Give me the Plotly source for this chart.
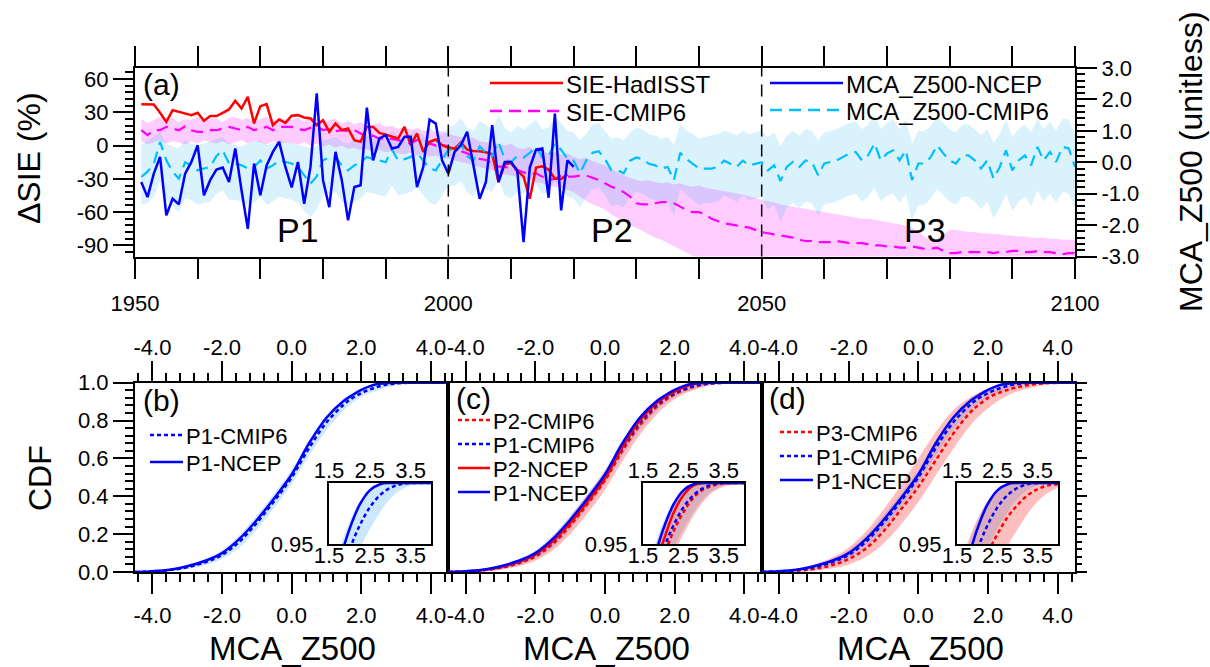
import plotly.graph_objects as go

# ---------------------------------------------------------------- data
YEARS_CMIP = list(range(1951, 2101))
YEARS_NCEP = list(range(1951, 2021))
YEARS_HAD = list(range(1951, 2020))

# Sea-ice extent anomaly, HadISST (%)
SIE_HADISST = [
    37.4, 37.4, 37.0, 29.6, 21.4, 32.0, 30.5, 29.0, 27.5, 29.6,
    22.4, 26.6, 26.6, 29.6, 32.6, 40.4, 33.5, 44.0, 20.0, 35.6,
    37.4, 18.4, 23.6, 20.5, 27.0, 27.5, 25.4, 24.5, 18.4, 23.0,
    12.4, 20.0, 13.9, 15.4, 4.9, 3.4, 16.9, 16.9, 11.5, 9.9,
    8.4, 6.4, 16.9, 0.4, 10.9, -5.7, 3.4, 5.5, 0.4, -2.0,
    -2.7, 2.8, -3.6, -4.8, -5.1, -6.0, -7.8, -32.8, -16.8, -15.6,
    -22.8, -27.7, -47.9, -19.8, -18.6, -21.6, -29.8, -30.1, -25.9,
]

# Sea-ice extent anomaly, CMIP6 ensemble mean and spread (%)
SIE_CMIP6 = [
    13.9, 9.4, 13.9, 13.9, 16.9, 15.4, 13.9, 17.5, 13.9, 12.4,
    12.4, 13.9, 13.9, 15.4, 16.9, 15.4, 13.9, 16.9, 13.9, 15.4,
    16.9, 13.9, 16.9, 16.9, 16.9, 15.0, 14.0, 16.0, 17.0, 14.0,
    15.0, 13.0, 14.0, 13.0, 14.0, 11.0, 8.0, 9.0, 6.0, 7.0,
    6.0, 5.0, 3.0, 2.0, 5.0, 6.0, 2.0, 0.0, 1.0, -1.0,
    -3, -5, -7, -10, -12, -13, -16, -19, -19, -21,
    -22, -24, -26, -25, -28, -31, -30, -27, -28, -28,
    -27, -27, -29, -31, -34, -37, -39, -42, -46, -52,
    -53, -53, -52, -51, -51, -52, -55, -58, -60, -60,
    -62, -66, -68, -70, -71, -72, -73, -74, -76, -78,
    -79, -80, -81, -82, -83, -85, -86, -86, -87, -87,
    -87, -86, -87, -88, -88, -88, -89, -90, -90, -91,
    -91, -92, -92, -91, -92, -93, -93, -92, -95, -97,
    -97, -96, -96, -96, -96, -96, -97, -96, -96, -95,
    -95, -96, -96, -95, -96, -96, -97, -98, -97, -97,
]
SIE_CMIP6_HI = [
    24, 20, 23, 26, 22, 25, 21, 24, 23, 26, 22, 25, 24, 21, 25, 26, 23, 25, 21, 24,
    26, 22, 25, 24, 23, 25, 22, 26, 24, 21, 23, 24, 20, 22, 19, 21, 18, 19, 20, 17,
    18, 15, 17, 14, 16, 13, 15, 12, 13, 11, 9, 8, 6, 7, 4, 3, 4, 1, 0, 2,
    -2, -3, -1, -5, -4, -7, -6, -8, -7, -10, -12, -11, -14, -16, -18, -21, -24, -27, -29, -31,
    -32, -31, -33, -34, -33, -35, -34, -36, -37, -36, -38, -39, -40, -41, -42, -43, -44, -46, -47, -49,
    -50, -51, -53, -54, -55, -56, -57, -58, -59, -60, -61, -62, -63, -64, -65, -66, -66, -67, -68, -69,
    -70, -71, -72, -74, -78, -82, -86, -84, -80, -76, -76, -77, -78, -78, -79, -79, -80, -80, -81, -81,
    -82, -82, -83, -83, -83, -84, -84, -85, -85, -85,
]
SIE_CMIP6_LO = [
    4, 1, 3, 5, 2, 4, 3, 1, 4, 2, 5, 3, 2, 4, 1, 3, 5, 2, 4, 3,
    1, 4, 2, 3, 2, 1, 3, 0, 2, -1, 1, -2, 0, -3, -2, -4, -3, -5, -4, -6,
    -5, -7, -8, -6, -9, -8, -10, -9, -11, -12, -13, -15, -16, -18, -19, -21, -22, -24, -26, -27,
    -28, -30, -31, -33, -34, -36, -37, -38, -40, -42, -46, -50, -53, -55, -58, -62, -65, -68, -72, -74,
    -77, -80, -83, -85, -88, -91, -94, -97, -100, -103, -106, -108, -110, -112, -114, -116, -118, -120, -121, -122,
    -123, -122, -124, -123, -125, -124, -126, -125, -124, -126, -125, -127, -126, -125, -127, -126, -128, -127, -126, -128,
    -127, -129, -128, -127, -129, -128, -130, -129, -128, -130, -129, -131, -130, -129, -131, -130, -132, -131, -130, -132,
    -131, -133, -132, -131, -133, -132, -134, -133, -132, -134,
]

# MCA_Z500 index, NCEP reanalysis (unitless)
MCA_NCEP = [
    -0.63, -1.11, -0.36, 0.17, -1.69, -1.16, -1.34, -0.36, 0.01, 0.54,
    -1.05, -0.57, -0.23, -0.17, -0.63, 0.44, -0.89, -2.12, -0.04, -1.05,
    -0.10, 0.33, 0.65, -0.15, -0.80, 0.01, -1.32, -0.15, 2.19, -0.57,
    -1.43, 0.33, -0.57, -1.85, -0.79, -0.73, 1.74, 0.06, 0.76, 0.86,
    0.44, 0.49, 0.81, 0.81, -0.79, -0.15, 1.36, 1.23, 0.06, -0.36,
    0.33, 0.54, 0.97, -0.10, -1.16, -0.63, 1.18, -0.63, 0.01, 0.01,
    -0.26, -2.54, -0.17, 0.40, 0.44, -1.13, 1.55, -1.53, 0.06, -0.15,
]

# MCA_Z500 index, CMIP6 ensemble mean and spread (unitless)
MCA_CMIP6 = [
    -0.47, -0.30, -0.05, 0.65, 0.06, -0.30, -0.52, 0.00, -0.10, -0.26,
    -0.20, -0.15, 0.20, 0.38, -0.04, -0.04, -0.10, -0.20, -0.15, 0.06,
    -0.20, -0.10, 0.06, 0.00, -0.04, -0.15, -0.40, -0.68, -0.45, 0.06,
    0.15, 0.17, -0.10, -0.26, -0.10, 0.00, 0.17, 0.10, 0.06, 0.00,
    0.40, 0.06, 0.10, 0.17, 0.30, 0.06, -0.20, -0.26, 0.06, 0.40,
    0.40, 0.60, 0.20, 0.05, 0.50, 0.30, 0.20, 0.65, 0.10, 0.00,
    0.20, 0.15, 0.30, 0.50, 0.15, 0.20, 0.60, 0.40, 0.10, 0.05,
    -0.35, 0.05, 0.30, 0.35, 0.10, -0.25, -0.25, -0.35, 0.05, 0.15,
    0.10, -0.05, -0.10, -0.20, -0.15, -0.57, 0.30, 0.10, -0.05, -0.20,
    -0.20, -0.20, -0.15, 0.05, -0.05, -0.15, 0.05, -0.10, -0.05, 0.00,
    -0.26, -0.10, -0.60, -0.15, 0.01, -0.15, 0.06, 0.01, -0.41, -0.04,
    0.01, 0.06, 0.17, 0.28, 0.33, 0.06, 0.22, 0.60, 0.06, 0.28,
    0.38, 0.06, 0.38, -0.57, -0.04, -0.04, 0.17, 0.54, 0.28, 0.06,
    -0.04, 0.22, 0.22, 0.06, -0.20, 0.06, -0.52, -0.15, 0.38, -0.26,
    0.06, 0.22, -0.10, 0.49, 0.06, 0.33, 0.01, 0.49, 0.44, -0.15,
]
MCA_CMIP6_HI = [
    0.55, 0.70, 0.80, 0.95, 0.60, 0.50, 0.45, 0.70, 0.60, 0.55,
    0.60, 0.65, 0.75, 0.80, 0.60, 0.55, 0.50, 0.60, 0.65, 0.70,
    0.55, 0.60, 0.70, 0.65, 0.60, 0.55, 0.50, 0.45, 0.50, 0.70,
    0.75, 0.80, 0.65, 0.60, 0.70, 0.75, 0.85, 0.80, 0.70, 0.75,
    1.00, 0.85, 0.80, 0.90, 1.00, 0.85, 0.70, 0.75, 0.90, 1.10,
    1.20, 1.40, 1.10, 1.00, 1.30, 1.20, 1.00, 1.50, 1.10, 0.95,
    1.15, 1.05, 1.20, 1.35, 1.05, 1.10, 1.45, 1.25, 1.00, 0.95,
    0.70, 0.90, 1.20, 1.25, 1.00, 0.75, 0.80, 0.70, 0.95, 1.10,
    1.05, 0.90, 0.85, 0.75, 0.80, 0.55, 1.20, 1.00, 0.90, 0.75,
    0.80, 0.85, 0.90, 1.00, 0.95, 0.85, 1.00, 0.90, 0.95, 1.00,
    0.80, 0.95, 0.50, 0.85, 1.00, 0.85, 1.05, 1.00, 0.70, 0.95,
    1.00, 1.05, 1.15, 1.25, 1.30, 1.05, 1.20, 1.50, 1.05, 1.25,
    1.35, 1.05, 1.35, 0.60, 1.00, 1.00, 1.15, 1.45, 1.25, 1.05,
    0.95, 1.20, 1.20, 1.05, 0.85, 1.05, 0.60, 0.90, 1.35, 0.80,
    1.05, 1.20, 0.95, 1.40, 1.05, 1.30, 1.00, 1.40, 1.35, 0.90,
]
MCA_CMIP6_LO = [
    -1.35, -1.30, -1.10, -0.60, -1.20, -1.40, -1.60, -1.15, -1.20, -1.35,
    -1.30, -1.25, -1.00, -0.90, -1.20, -1.20, -1.25, -1.35, -1.30, -1.10,
    -1.35, -1.25, -1.10, -1.15, -1.20, -1.30, -1.55, -1.75, -1.50, -1.05,
    -1.00, -0.95, -1.25, -1.40, -1.25, -1.15, -0.95, -1.00, -1.05, -1.10,
    -0.75, -1.05, -1.00, -0.95, -0.80, -1.05, -1.30, -1.35, -1.05, -0.75,
    -0.75, -0.60, -0.95, -1.10, -0.65, -0.85, -0.95, -0.55, -1.05, -1.15,
    -0.95, -1.00, -0.85, -0.70, -1.00, -0.95, -0.60, -0.80, -1.10, -1.15,
    -1.45, -1.10, -0.85, -0.80, -1.05, -1.40, -1.35, -1.45, -1.05, -0.95,
    -1.00, -1.15, -1.20, -1.30, -1.25, -1.70, -0.85, -1.05, -1.20, -1.35,
    -1.30, -1.30, -1.25, -1.05, -1.15, -1.25, -1.05, -1.20, -1.15, -1.10,
    -1.50, -1.35, -1.90, -1.45, -1.30, -1.45, -1.25, -1.30, -1.70, -1.35,
    -1.30, -1.25, -1.15, -1.05, -1.00, -1.25, -1.10, -0.80, -1.25, -1.05,
    -1.00, -1.30, -1.00, -1.85, -1.35, -1.35, -1.15, -0.85, -1.05, -1.25,
    -1.35, -1.10, -1.10, -1.25, -1.50, -1.25, -1.80, -1.45, -1.00, -1.55,
    -1.25, -1.10, -1.40, -0.90, -1.25, -1.00, -1.30, -0.95, -1.00, -1.45,
]

# Cumulative distribution functions of MCA_Z500
CDF_X = [-4.5, -4.0, -3.5, -3.0, -2.5, -2.0, -1.5, -1.0, -0.5, 0.0, 0.5, 1.0,
         1.5, 1.75, 2.0, 2.25, 2.5, 2.75, 3.0, 3.25, 3.5, 3.75, 4.0, 4.5]
P1_NCEP = [0, 0.004, 0.012, 0.030, 0.058, 0.100, 0.175, 0.275, 0.390, 0.515, 0.680, 0.815,
           0.905, 0.935, 0.962, 0.982, 0.994, 0.999, 1, 1, 1, 1, 1, 1]
P2_NCEP = [0, 0.003, 0.010, 0.026, 0.052, 0.092, 0.162, 0.258, 0.372, 0.495, 0.660, 0.800,
           0.895, 0.928, 0.952, 0.975, 0.990, 0.998, 1, 1, 1, 1, 1, 1]
P1_CMIP6 = [0, 0.003, 0.010, 0.025, 0.050, 0.090, 0.160, 0.260, 0.375, 0.500, 0.655, 0.790,
            0.885, 0.920, 0.945, 0.965, 0.980, 0.990, 0.996, 0.999, 1, 1, 1, 1]
P1_CMIP6_LO = [0, 0.001, 0.005, 0.015, 0.035, 0.070, 0.130, 0.225, 0.340, 0.465, 0.615, 0.750,
               0.855, 0.895, 0.925, 0.946, 0.962, 0.976, 0.987, 0.994, 0.998, 1, 1, 1]
P1_CMIP6_HI = [0, 0.006, 0.016, 0.036, 0.068, 0.115, 0.195, 0.300, 0.415, 0.540, 0.695, 0.830,
               0.915, 0.945, 0.968, 0.985, 0.995, 1, 1, 1, 1, 1, 1, 1]
P2_CMIP6 = [0, 0.0025, 0.009, 0.022, 0.045, 0.082, 0.148, 0.245, 0.360, 0.485, 0.640, 0.775,
            0.875, 0.910, 0.938, 0.960, 0.976, 0.988, 0.995, 0.998, 1, 1, 1, 1]
P2_CMIP6_LO = [0, 0.001, 0.004, 0.012, 0.030, 0.060, 0.115, 0.200, 0.310, 0.435, 0.585, 0.725,
               0.835, 0.878, 0.912, 0.940, 0.958, 0.973, 0.985, 0.993, 0.997, 0.999, 1, 1]
P2_CMIP6_HI = [0, 0.005, 0.014, 0.033, 0.062, 0.108, 0.185, 0.290, 0.410, 0.535, 0.690, 0.825,
               0.912, 0.942, 0.965, 0.982, 0.993, 0.999, 1, 1, 1, 1, 1, 1]
P3_CMIP6 = [0, 0.002, 0.006, 0.016, 0.035, 0.068, 0.125, 0.215, 0.330, 0.450, 0.590, 0.730,
            0.845, 0.885, 0.920, 0.942, 0.958, 0.972, 0.982, 0.990, 0.995, 0.998, 0.999, 1]
P3_CMIP6_LO = [0, 0.0005, 0.002, 0.007, 0.018, 0.040, 0.080, 0.150, 0.250, 0.370, 0.510, 0.650,
               0.775, 0.825, 0.865, 0.900, 0.925, 0.948, 0.962, 0.975, 0.985, 0.992, 0.996, 1]
P3_CMIP6_HI = [0, 0.006, 0.018, 0.040, 0.075, 0.130, 0.215, 0.330, 0.460, 0.600, 0.740, 0.855,
               0.925, 0.950, 0.970, 0.985, 0.994, 0.999, 1, 1, 1, 1, 1, 1]

YEAR_TICKS = [1950, 2000, 2050, 2100]
SIE_TICKS = [-90, -60, -30, 0, 30, 60]
MCA_TICKS = [-3, -2, -1, 0, 1, 2, 3]
CDF_TICKS = [0, 0.2, 0.4, 0.6, 0.8, 1.0]
Z_TICKS = [-4, -2, 0, 2, 4]
INSET_TICKS = [1.5, 2.5, 3.5]

for arr in (SIE_CMIP6, SIE_CMIP6_HI, SIE_CMIP6_LO, MCA_CMIP6, MCA_CMIP6_HI, MCA_CMIP6_LO):
    assert len(arr) == len(YEARS_CMIP)
assert len(MCA_NCEP) == len(YEARS_NCEP) and len(SIE_HADISST) == len(YEARS_HAD)

# ---------------------------------------------------------------- styling
W, H = 1210, 667
ML, MR, MT, MB = 135, 135, 68, 95
PW, PH = W - ML - MR, H - MT - MB
FONT = "Liberation Sans"
TICK_SIZE = 22

RED, BLUE, MAGENTA, CYAN = "#ff0000", "#0000ff", "#ff00ff", "#00bfff"
PINK_FILL = "rgba(255,0,255,0.20)"
SKY_FILL = "rgba(0,170,238,0.15)"
CDF_RED_FILL = "rgba(255,40,40,0.30)"
CDF_BLUE_FILL = "rgba(0,140,255,0.20)"
LONG_DASH = "12px,7px"
SHORT_DASH = "4px,3px"


def px(x):
    return (x - ML) / PW


def py(y):
    return (H - MB - y) / PH


def tfont(size):
    return dict(family=FONT, size=size, color="black")


def fmt1(v):
    return f"{v:.1f}"


fig = go.Figure()


def band(x, lo, hi, color, xa, ya, spline=False):
    shape = "spline" if spline else "linear"
    fig.add_trace(go.Scatter(x=x, y=lo, mode="lines", line=dict(width=0, shape=shape),
                             xaxis=xa, yaxis=ya, showlegend=False, hoverinfo="skip"))
    fig.add_trace(go.Scatter(x=x, y=hi, mode="lines", line=dict(width=0, shape=shape),
                             fill="tonexty", fillcolor=color,
                             xaxis=xa, yaxis=ya, showlegend=False, hoverinfo="skip"))


def curve(x, y, color, dash, width, xa, ya, spline=False):
    fig.add_trace(go.Scatter(x=x, y=y, mode="lines",
                             line=dict(color=color, dash=dash, width=width,
                                       shape="spline" if spline else "linear"),
                             xaxis=xa, yaxis=ya, showlegend=False))


def label_axis_holder(xa, ya):
    # empty trace so that the secondary (top-labelled) axis gets its own subplot
    fig.add_trace(go.Scatter(x=[], y=[], mode="lines", xaxis=xa, yaxis=ya,
                             showlegend=False, hoverinfo="skip"))


# ---------------------------------------------------------------- (a) time series
band(YEARS_CMIP, SIE_CMIP6_LO, SIE_CMIP6_HI, PINK_FILL, "x", "y")
band(YEARS_CMIP, MCA_CMIP6_LO, MCA_CMIP6_HI, SKY_FILL, "x", "y2")
curve(YEARS_CMIP, SIE_CMIP6, MAGENTA, LONG_DASH, 2.2, "x", "y3")
curve(YEARS_HAD, SIE_HADISST, RED, "solid", 2.5, "x", "y3")
curve(YEARS_CMIP, MCA_CMIP6, CYAN, LONG_DASH, 2.2, "x", "y4")
curve(YEARS_NCEP, MCA_NCEP, BLUE, "solid", 2.5, "x", "y4")

# ---------------------------------------------------------------- (b)-(d) CDFs
PANELS = [
    # (main x, main y, inset x, inset y, bands, lines)
    ("x2", "y5", "x8", "y8",
     [(P1_CMIP6_LO, P1_CMIP6_HI, CDF_BLUE_FILL)],
     [(P1_CMIP6, BLUE, SHORT_DASH), (P1_NCEP, BLUE, "solid")]),
    ("x3", "y6", "x9", "y9",
     [(P1_CMIP6_LO, P1_CMIP6_HI, CDF_BLUE_FILL), (P2_CMIP6_LO, P2_CMIP6_HI, CDF_RED_FILL)],
     [(P2_CMIP6, RED, SHORT_DASH), (P1_CMIP6, BLUE, SHORT_DASH),
      (P2_NCEP, RED, "solid"), (P1_NCEP, BLUE, "solid")]),
    ("x4", "y7", "x10", "y10",
     [(P1_CMIP6_LO, P1_CMIP6_HI, CDF_BLUE_FILL), (P3_CMIP6_LO, P3_CMIP6_HI, CDF_RED_FILL)],
     [(P3_CMIP6, RED, SHORT_DASH), (P1_CMIP6, BLUE, SHORT_DASH), (P1_NCEP, BLUE, "solid")]),
]
for xa, ya, ixa, iya, bands, lines in PANELS:
    for ax_x, ax_y in ((xa, ya), (ixa, iya)):
        for lo, hi, col in bands:
            band(CDF_X, lo, hi, col, ax_x, ax_y, spline=True)
        for yv, col, dash in lines:
            curve(CDF_X, yv, col, dash, 2.5, ax_x, ax_y, spline=True)

for i in range(3):
    label_axis_holder(f"x{5 + i}", f"y{5 + i}")
    label_axis_holder(f"x{11 + i}", f"y{8 + i}")

# ---------------------------------------------------------------- axes
AX = dict(showline=True, linecolor="black", linewidth=2, showgrid=False, zeroline=False,
          ticks="outside", tickcolor="black", tickwidth=2, ticklen=20,
          tickfont=tfont(TICK_SIZE))


def minor(step, tick0=0, length=8):
    return dict(tickmode="linear", tick0=tick0, dtick=step, ticks="outside",
                ticklen=length, tickwidth=1.5, tickcolor="black")


TOP_DOM = [py(256.5), 1.0]
BOT_DOM = [0.0, py(382.7)]
INSET_Y = [py(544), py(483)]
INSET_X = [[px(329), px(431)], [px(643), px(744)], [px(957), px(1058)]]

layout_axes = {}
layout_axes["xaxis"] = dict(AX, domain=[0, 1], anchor="y", range=[1950, 2100],
                            tickmode="array", tickvals=YEAR_TICKS,
                            ticktext=[str(v) for v in YEAR_TICKS],
                            mirror="allticks", minor=minor(10, 1950), ticklabelstandoff=6)
layout_axes["yaxis"] = dict(AX, domain=TOP_DOM, anchor="x", range=[-100, 70],
                            tickmode="array", tickvals=SIE_TICKS,
                            ticktext=[str(v) for v in SIE_TICKS],
                            mirror=True, minor=minor(6))
layout_axes["yaxis2"] = dict(overlaying="y", range=[-3, 3], visible=False)
layout_axes["yaxis3"] = dict(overlaying="y", range=[-100, 70], visible=False)
layout_axes["yaxis4"] = dict(AX, overlaying="y", side="right", anchor="x", range=[-3, 3],
                             tickmode="array", tickvals=MCA_TICKS,
                             ticktext=[fmt1(v) for v in MCA_TICKS], minor=minor(0.2))

for i in range(3):
    dom = [i / 3, (i + 1) / 3]
    xid, yid = f"x{2 + i}", f"y{5 + i}"
    layout_axes[f"xaxis{2 + i}"] = dict(AX, domain=dom, anchor=yid, range=[-4.5, 4.5],
                                        tickmode="array", tickvals=Z_TICKS,
                                        ticktext=[fmt1(v) for v in Z_TICKS],
                                        mirror="allticks", minor=minor(0.4),
                                        ticklabelstandoff=3)
    # tick labels along the top edge
    layout_axes[f"xaxis{5 + i}"] = dict(AX, overlaying=xid, side="top", anchor=yid,
                                        range=[-4.5, 4.5], showline=False,
                                        tickmode="array", tickvals=Z_TICKS,
                                        ticktext=[fmt1(v) for v in Z_TICKS],
                                        tickcolor="rgba(0,0,0,0)", ticklabelstandoff=-2)
    ydef = dict(AX, domain=BOT_DOM, anchor=xid, range=[0, 1], mirror=True,
                tickmode="array", tickvals=CDF_TICKS, ticktext=[fmt1(v) for v in CDF_TICKS])
    if i == 0:
        ydef.update(minor=minor(0.04))
    elif i == 1:
        ydef.update(ticks="", showticklabels=False)
    else:
        ydef.update(side="right", showticklabels=False, ticklen=10,
                    minor=minor(0.04, length=5))
    layout_axes[f"yaxis{5 + i}"] = ydef

    # inset axes
    n = 8 + i
    layout_axes[f"xaxis{n}"] = dict(AX, domain=INSET_X[i], anchor=f"y{n}", range=[1.5, 4.0],
                                    ticks="", ticklen=0, mirror=True, tickmode="array",
                                    tickvals=INSET_TICKS,
                                    ticktext=[fmt1(v) for v in INSET_TICKS],
                                    ticklabelstandoff=-9)
    layout_axes[f"xaxis{11 + i}"] = dict(AX, overlaying=f"x{n}", side="top", anchor=f"y{n}",
                                         range=[1.5, 4.0], ticks="", ticklen=0, showline=False,
                                         tickmode="array", tickvals=INSET_TICKS,
                                         ticktext=[fmt1(v) for v in INSET_TICKS])
    layout_axes[f"yaxis{n}"] = dict(AX, domain=INSET_Y, anchor=f"x{n}", range=[0.95, 1.0],
                                    ticks="", ticklen=0, mirror=True, tickmode="array",
                                    tickvals=[0.95], ticktext=["0.95"], ticklabelstandoff=9)

# ---------------------------------------------------------------- shapes & text
shapes = []
for yr in (2000, 2050):
    shapes.append(dict(type="line", xref="x", yref="y domain", x0=yr, x1=yr, y0=0, y1=1,
                       line=dict(color="black", width=1.5, dash="12px,8px"), layer="above"))

annotations = []


def label(text, x, y, size, anchor="center", angle=0):
    annotations.append(dict(text=text, xref="paper", yref="paper", x=px(x), y=py(y),
                            xanchor=anchor, yanchor="middle", showarrow=False,
                            font=tfont(size), textangle=angle))


def key(text, x0, x1, y, color, dash, size):
    shapes.append(dict(type="line", xref="paper", yref="paper", x0=px(x0), x1=px(x1),
                       y0=py(y), y1=py(y), line=dict(color=color, width=2.5, dash=dash),
                       layer="above"))
    label(text, x1 + 1, y + 1, size, anchor="left")


# legend of panel (a)
key("SIE-HadISST", 490, 563, 83, RED, "solid", 24)
key("SIE-CMIP6", 490, 563, 111, MAGENTA, LONG_DASH, 24)
key("MCA_Z500-NCEP", 770, 843, 83, BLUE, "solid", 24)
key("MCA_Z500-CMIP6", 770, 843, 110, CYAN, LONG_DASH, 24)

# legends of panels (b)-(d)
key("P1-CMIP6", 150, 183, 435, BLUE, SHORT_DASH, 22)
key("P1-NCEP", 150, 183, 462, BLUE, "solid", 22)
key("P2-CMIP6", 458, 490, 420, RED, SHORT_DASH, 22)
key("P1-CMIP6", 458, 490, 444, BLUE, SHORT_DASH, 22)
key("P2-NCEP", 458, 490, 468, RED, "solid", 22)
key("P1-NCEP", 458, 490, 492, BLUE, "solid", 22)
key("P3-CMIP6", 780, 813, 432, RED, SHORT_DASH, 22)
key("P1-CMIP6", 780, 813, 456, BLUE, SHORT_DASH, 22)
key("P1-NCEP", 780, 813, 480, BLUE, "solid", 22)

label("(a)", 161, 84, 30)
label("(b)", 161, 400, 30)
label("(c)", 473, 398, 30)
label("(d)", 787, 398, 30)
label("P1", 298, 230, 34)
label("P2", 612, 230, 34)
label("P3", 925, 230, 34)

label("ΔSIE (%)", 29, 158, 32, angle=-90)
label("MCA_Z500 (unitless)", 1191, 162, 32, angle=-90)
label("CDF", 40, 478, 32, angle=-90)
for cx in (292, 606, 920):
    label("MCA_Z500", cx, 648, 33)

fig.update_layout(
    width=W, height=H,
    margin=dict(l=ML, r=MR, t=MT, b=MB, pad=0),
    paper_bgcolor="white", plot_bgcolor="white",
    font=tfont(TICK_SIZE),
    showlegend=False,
    shapes=shapes, annotations=annotations,
    **layout_axes,
)

fig.write_html("out.html")
